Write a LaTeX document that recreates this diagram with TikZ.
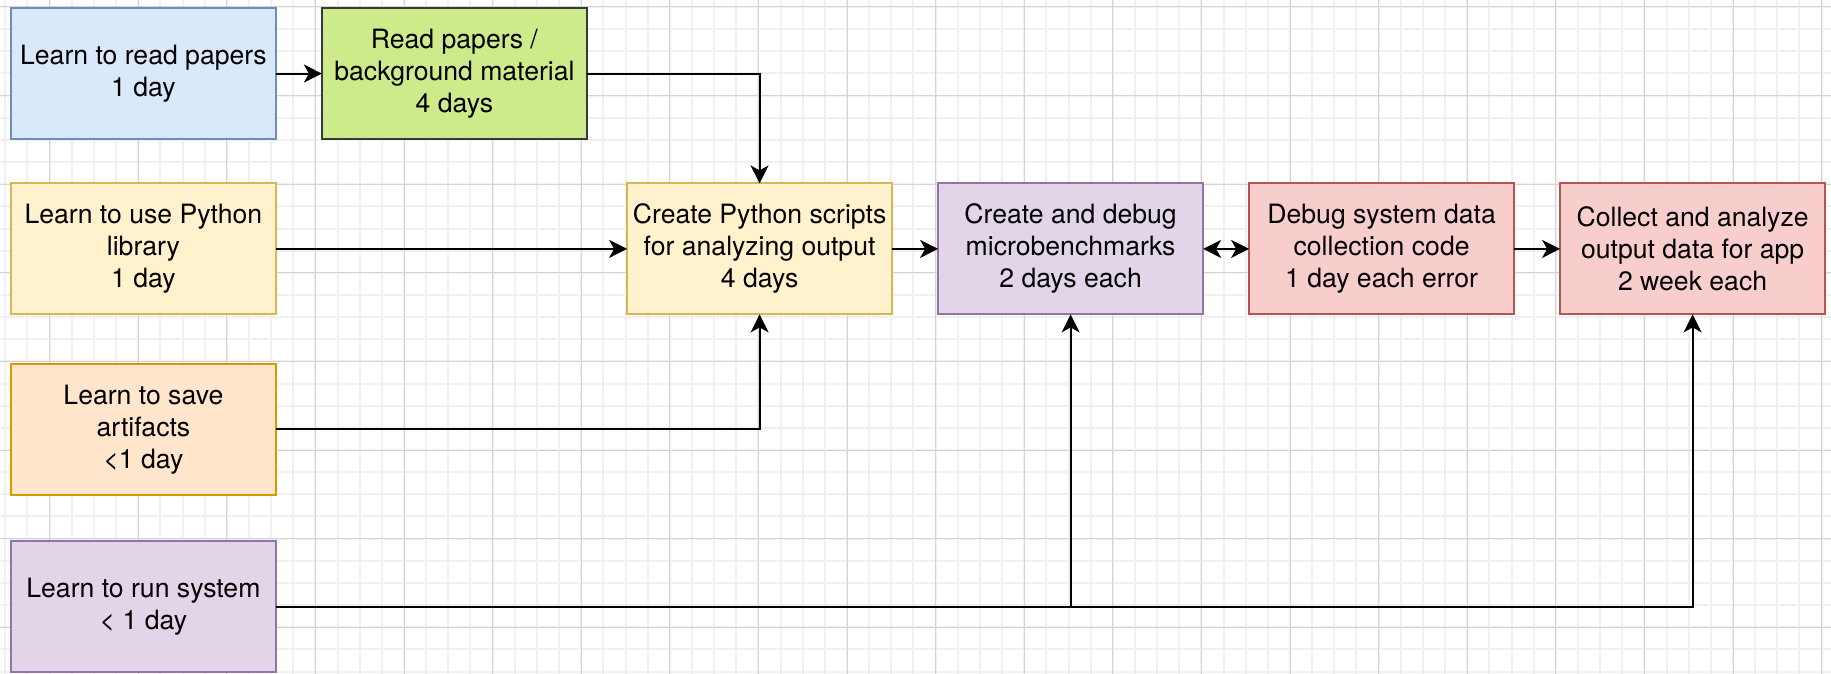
\documentclass[tikz,border=0pt]{standalone}
\usepackage{fontspec}
\setmainfont{TeX Gyre Heros}
\usetikzlibrary{positioning,arrows.meta}
\definecolor{bluefill}{HTML}{DAE8FC}\definecolor{bluedraw}{HTML}{6C8EBF}
\definecolor{greenfill}{HTML}{CDEB8B}\definecolor{greendraw}{HTML}{36393D}
\definecolor{yellowfill}{HTML}{FFF2CC}\definecolor{yellowdraw}{HTML}{D6B656}
\definecolor{orangefill}{HTML}{FFE6CC}\definecolor{orangedraw}{HTML}{D79B00}
\definecolor{purplefill}{HTML}{E1D5E7}\definecolor{purpledraw}{HTML}{9673A6}
\definecolor{redfill}{HTML}{F8CECC}\definecolor{reddraw}{HTML}{B85450}
\definecolor{minorgrid}{HTML}{F0F0F0}\definecolor{majorgrid}{HTML}{D4D4D4}

\begin{document}
\begin{tikzpicture}[x=1pt,y=1pt,node distance=23pt,
  >={Stealth[length=9pt,width=9pt,inset=2.5pt]},
  task/.style={draw,line width=1pt,outer sep=0pt,minimum width=132.5pt,minimum height=65.5pt,
    inner sep=2pt,align=center,font=\fontsize{13.3}{16}\selectfont},
  bluebox/.style={task,fill=bluefill,draw=bluedraw},
  greenbox/.style={task,fill=greenfill,draw=greendraw},
  yellowbox/.style={task,fill=yellowfill,draw=yellowdraw},
  orangebox/.style={task,fill=orangefill,draw=orangedraw},
  purplebox/.style={task,fill=purplefill,draw=purpledraw},
  redbox/.style={task,fill=redfill,draw=reddraw},
  link/.style={->,line width=1pt}]
\useasboundingbox (0,0) rectangle (915.5,-337);
\begin{scope}
\clip (0,0) rectangle (915.5,-337);
\draw[minorgrid,line width=1pt,shift={(2.65,-3.5)}] (-22.15,22.15) grid[step=11.075] (930,-350);
\draw[majorgrid,line width=0.5pt,shift={(24.8,-3.5)}] (-44.3,44.3) grid[step=44.3] (930,-350);
\end{scope}

\node[bluebox] at (71.7,-36.8) (read) {Learn to read papers\\1 day};
\node[greenbox, right=of read] (papers) {Read papers /\\background material\\4 days};
\node[yellowbox, below=22.15pt of read] (python) {Learn to use Python\\library\\1 day};
\node[orangebox, below=24.65pt of python] (save) {Learn to save\\artifacts\\<1 day};
\node[purplebox, below=23.15pt of save] (run) {Learn to run system\\< 1 day};
\node[yellowbox, right=175.6pt of python] (scripts) {Create Python scripts\\for analyzing output\\4 days};
\node[purplebox, right=of scripts] (micro) {Create and debug\\microbenchmarks\\2 days each};
\node[redbox, right=of micro] (debug) {Debug system data\\collection code\\1 day each error};
\node[redbox, right=of debug] (collect) {Collect and analyze\\output data for app\\2 week each};

\draw[link] (read) -- (papers);
\draw[link] (papers) -| (scripts);
\draw[link] (python) -- (scripts);
\draw[link] (save) -| (scripts);
\draw[link] (scripts) -- (micro);
\draw[link,<->] (micro) -- (debug);
\draw[link] (debug) -- (collect);
\draw[link] (run) -| (micro);
\draw[link] (run) -| (collect);
\end{tikzpicture}
\end{document}
